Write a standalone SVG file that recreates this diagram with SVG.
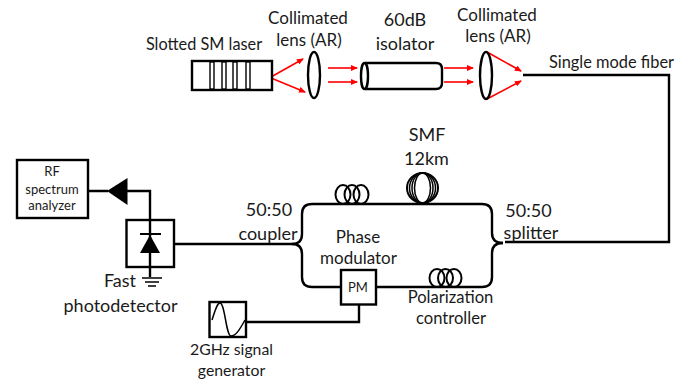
<svg xmlns="http://www.w3.org/2000/svg" width="691" height="384" viewBox="0 0 691 384">
<style>
text{font-family:"Lato","Liberation Sans",sans-serif;font-size:17px;fill:#1a1a1a;text-anchor:middle}
.s{font-size:13px}
.m{font-size:16.400px}
.p{font-size:16.600px}
.g{font-size:15.800px}
.l{font-size:18px}
.b{fill:#fff;stroke:#000;stroke-width:2.400}
.n{fill:none;stroke:#000;stroke-width:2.400}
.t{fill:none;stroke:#000;stroke-width:2}
.f{fill:none;stroke:#000;stroke-width:1.500}
.r{fill:none;stroke:#f00;stroke-width:1.600;marker-end:url(#a)}
</style>
<defs>
<marker id="a" markerWidth="7" markerHeight="6" refX="6" refY="3" orient="auto" markerUnits="userSpaceOnUse"><path d="M0 0L7 3L0 6z" fill="#f00"/></marker>
</defs>
<g id="connectors">
<path class="n" d="M523 75H669V242H505"/>
<path class="n" d="M175 244H292"/>
<path class="n" d="M292 244Q302 244 302 234V214Q302 204 312 204H482Q492 204 492 214V233Q492 243 503 243"/>
<path class="n" d="M292 244Q302 244 302 254V277Q302 287 312 287H341M376 287H482Q492 287 492 277V253Q492 243 503 243"/>
<path class="n" d="M246 322H359V304"/>
<path class="n" d="M127 191H150V222M108 191H88"/>
<path class="r" d="M271 77L303 59"/>
<path class="r" d="M271 78L305 92"/>
<path class="r" d="M328 68H357"/>
<path class="r" d="M328 82H357"/>
<path class="r" d="M444 68H473"/>
<path class="r" d="M444 82H473"/>
<path class="r" d="M487 52L521 71"/>
<path class="r" d="M487 99L521 81"/>
</g>
<g id="laser">
<rect class="b" x="192" y="61" width="80" height="29"/>
<g fill="#fff" stroke="#000" stroke-width="1.400"><rect x="210" y="62" width="4" height="27"/><rect x="222" y="62" width="4" height="27"/><rect x="233" y="62" width="4" height="27"/><rect x="246" y="62" width="4" height="27"/></g>
<text x="204" y="50" style="font-size:16.300px">Slotted SM laser</text>
</g>
<g id="lens1"><ellipse class="n" cx="314" cy="75" rx="6" ry="23"/><text x="308" y="24">Collimated</text><text x="309" y="46">lens (AR)</text></g>
<g id="isolator">
<path class="n" d="M365 63H436Q442 63 442 69V83Q442 89 436 89H365"/><ellipse class="n" cx="364.500" cy="76" rx="3.500" ry="13"/>
<text class="l" x="405" y="26">60dB</text><text class="l" x="405" y="50">isolator</text>
</g>
<g id="lens2"><ellipse class="n" cx="486" cy="75.500" rx="6" ry="23.500"/><text x="497" y="21">Collimated</text><text x="498" y="42">lens (AR)</text></g>
<g id="fiber-label"><text class="m" x="611.500" y="68">Single mode fiber</text></g>
<g id="rf"><rect class="b" x="17" y="160" width="71" height="58"/><text class="s" x="52" y="176">RF</text><text class="s" x="52" y="194">spectrum</text><text class="s" x="52" y="210">analyzer</text></g>
<g id="amp"><path d="M107 191L127.500 178V205z" fill="#000"/></g>
<g id="photodetector">
<rect class="b" x="126.500" y="220" width="47.500" height="47"/>
<path class="n" d="M150 220V277"/>
<path d="M140 234H161" stroke="#000" stroke-width="2" fill="none"/>
<path d="M150 235L160 253H140z" fill="#000"/>
<path d="M142 278H162M145 282H159M148 286H156" stroke="#000" stroke-width="1.600" fill="none"/>
<text class="l" x="120" y="287">Fast</text><text class="l" x="120.500" y="312">photodetector</text>
</g>
<g id="pc1"><ellipse class="t" cx="343" cy="194.500" rx="7.500" ry="9.500"/><ellipse class="t" cx="352" cy="194.500" rx="7.500" ry="9.500"/><ellipse class="t" cx="361" cy="194.500" rx="7.500" ry="9.500"/></g>
<g id="smf"><ellipse class="t" cx="422.500" cy="188" rx="15.500" ry="15"/><ellipse class="f" cx="422.500" cy="188" rx="13" ry="15"/><ellipse class="f" cx="422.500" cy="188" rx="10.500" ry="15"/><ellipse class="f" cx="422.500" cy="188" rx="8" ry="15"/><text class="l" x="427" y="141">SMF</text><text class="l" x="426.500" y="165">12km</text></g>
<g id="coupler"><text class="l" x="269" y="216">50:50</text><text class="l" x="268" y="240">coupler</text></g>
<g id="splitter"><text class="l" x="528.500" y="217">50:50</text><text class="l" x="531" y="239">splitter</text></g>
<g id="modulator"><text x="358" y="243">Phase</text><text x="358.500" y="264">modulator</text><rect class="b" x="341" y="270" width="35" height="34.500"/><text class="s" x="358" y="292">PM</text></g>
<g id="pc2"><ellipse class="t" cx="437" cy="278" rx="7.500" ry="9"/><ellipse class="t" cx="445.500" cy="278" rx="7.500" ry="9"/><ellipse class="t" cx="454" cy="278" rx="7.500" ry="9"/><text class="p" x="450.500" y="303">Polarization</text><text class="p" x="451" y="324">controller</text></g>
<g id="generator"><rect class="b" x="209.500" y="302" width="36.500" height="35"/><path class="f" d="M212 320C215 311 217 303 220 303C225 303 226 336 231 336C236 336 240 329 245 320"/><text class="g" x="231.500" y="355">2GHz signal</text><text class="g" x="231.500" y="376">generator</text></g>
</svg>
